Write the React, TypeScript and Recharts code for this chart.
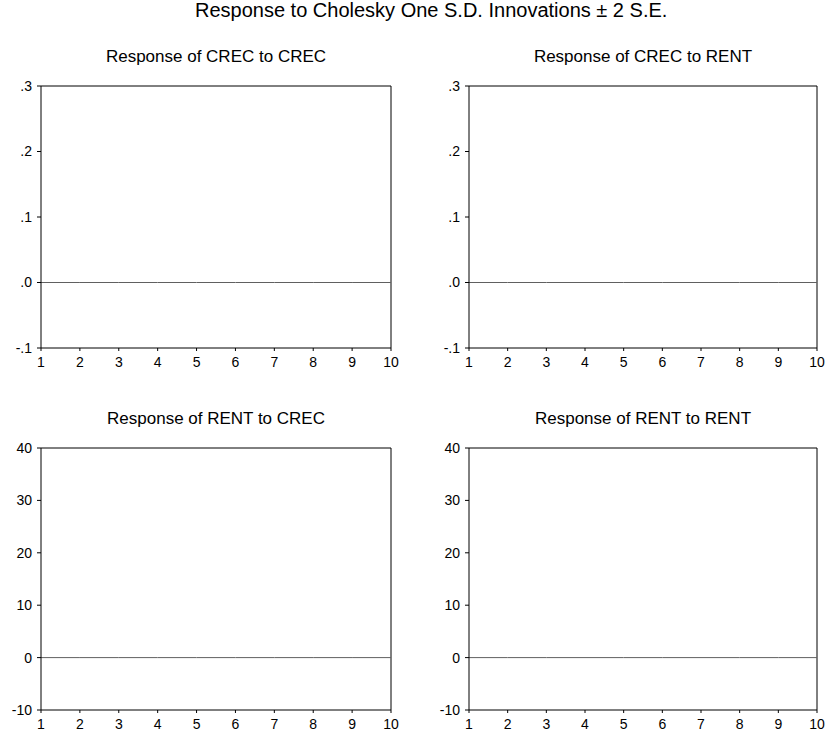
import React from "react";
import { LineChart, Line, XAxis, YAxis, ReferenceLine } from "recharts";

const periods = [1, 2, 3, 4, 5, 6, 7, 8, 9, 10];
const zeroLine = [0, 0, 0, 0, 0, 0, 0, 0, 0, 0];
const crecTicks = [-0.1, 0, 0.1, 0.2, 0.3];
const rentTicks = [-10, 0, 10, 20, 30, 40];
const mainTitle = "Response to Cholesky One S.D. Innovations \u00b1 2 S.E.";
const panelTitles = [
  "Response of CREC to CREC",
  "Response of CREC to RENT",
  "Response of RENT to CREC",
  "Response of RENT to RENT",
];

const FONT = "'Liberation Sans', Arial, sans-serif";
const chartData = periods.map((p, i) => ({ period: p, zero: zeroLine[i] }));

// EViews style: .3 / .0 / -.1
const fmtSmall = (v: number) => {
  if (v === 0) return ".0";
  return v.toFixed(1).replace("0.", ".");
};

interface PanelProps {
  title: string;
  ticks: number[];
  left: number;
  top: number;
  width: number;
  rightMargin: number;
  small: boolean;
}

const Panel = ({ title, ticks, left, top, width, rightMargin, small }: PanelProps) => {
  const plotLeft = 41;
  const plotWidth = width - plotLeft - rightMargin;
  const height = 262 + 26 + 23;
  const yMax = ticks[ticks.length - 1];
  return (
    <div style={{ position: "absolute", left, top, width, height }}>
      <div
        style={{
          position: "absolute",
          left: plotLeft - 20,
          width: plotWidth + 40,
          top: -13,
          textAlign: "center",
          fontSize: 17,
          fontFamily: FONT,
          color: "#000",
          whiteSpace: "nowrap",
        }}
      >
        {title}
      </div>
      <LineChart
        width={width}
        height={height}
        data={chartData}
        margin={{ top: 26, left: 0, right: rightMargin, bottom: 0 }}
      >
        <XAxis
          dataKey="period"
          type="number"
          domain={[1, 10]}
          ticks={periods}
          height={23}
          stroke="#000"
          tickSize={3}
          tickMargin={6}
          tick={{ fontSize: 14, fill: "#000", fontFamily: FONT }}
          interval={0}
        />
        <YAxis
          type="number"
          domain={[ticks[0], yMax]}
          ticks={ticks}
          width={plotLeft}
          stroke="#000"
          tickSize={4}
          tickMargin={5}
          tickFormatter={small ? fmtSmall : undefined}
          tick={{ fontSize: 14, fill: "#000", fontFamily: FONT }}
          interval={0}
        />
        <ReferenceLine y={yMax} stroke="#000" />
        <ReferenceLine x={10} stroke="#000" />
        <Line
          dataKey="zero"
          stroke="#606060"
          strokeWidth={1}
          dot={false}
          isAnimationActive={false}
        />
      </LineChart>
    </div>
  );
};

export default function App() {
  return (
    <div
      style={{
        position: "absolute",
        left: 0,
        top: 0,
        width: 825,
        height: 731,
        background: "#fff",
        fontFamily: FONT,
      }}
    >
      <div
        style={{
          position: "absolute",
          left: 195,
          top: -1,
          fontSize: 20,
          color: "#000",
          whiteSpace: "nowrap",
        }}
      >
        {mainTitle}
      </div>
      <Panel title={panelTitles[0]} ticks={crecTicks} left={0} top={60} width={412} rightMargin={21} small />
      <Panel title={panelTitles[1]} ticks={crecTicks} left={428} top={60} width={397} rightMargin={8} small />
      <Panel title={panelTitles[2]} ticks={rentTicks} left={0} top={422} width={412} rightMargin={21} small={false} />
      <Panel title={panelTitles[3]} ticks={rentTicks} left={428} top={422} width={397} rightMargin={8} small={false} />
    </div>
  );
}
